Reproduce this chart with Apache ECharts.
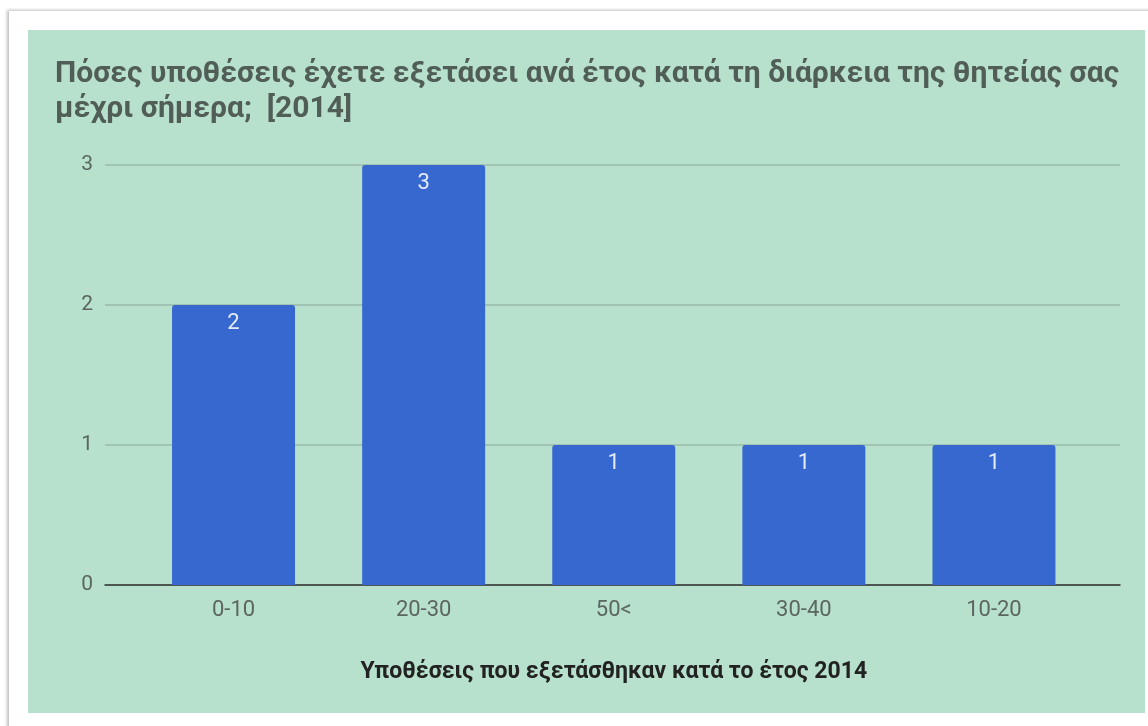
<!DOCTYPE html>
<html lang="el">
<head>
	<meta charset="UTF-8">
	<title>Υποθέσεις 2014</title>
	<script src="https://cdn.jsdelivr.net/npm/echarts@6/dist/echarts.min.js"></script>
	<style>
		html, body { margin: 0; padding: 0; background: #ffffff; }
		#frame {
			position: absolute; left: 9px; top: 11px; width: 1160px; height: 720px;
			background: #ffffff; box-shadow: -2px -1px 3px rgba(0,0,0,0.25);
		}
		#panel {
			position: absolute; left: 28px; top: 30px; width: 1117px; height: 683px;
			background: #b7e1cd;
		}
		#main { position: absolute; left: 0; top: 0; width: 1148px; height: 726px; }
	</style>
</head>
<body>
	<div id="frame"></div>
	<div id="panel"></div>
	<div id="main"></div>
	<script type="text/javascript">
		// δεδομένα
		var categories = ['0-10', '20-30', '50<', '30-40', '10-20'];
		var counts = [2, 3, 1, 1, 1];
		var yTicks = [0, 1, 2, 3];

		var titleText = 'Πόσες υποθέσεις έχετε εξετάσει ανά έτος κατά τη διάρκεια της θητείας σας\nμέχρι σήμερα;  [2014]';
		var xName = 'Υποθέσεις που εξετάσθηκαν κατά το έτος 2014';

		var myChart = echarts.init(document.getElementById('main'));

		var option = {
			backgroundColor: 'transparent',
			animation: false,
			textStyle: { fontFamily: 'Roboto' },
			title: {
				text: titleText,
				left: 55,
				top: 57,
				padding: 0,
				textStyle: {
					fontFamily: 'Roboto',
					fontSize: 30,
					fontWeight: 'bold',
					color: '#515d57',
					lineHeight: 35
				}
			},
			grid: [
				// γραμμές πλέγματος
				{ left: 105, right: 28, top: 165, bottom: 141 },
				// μπάρες
				{ left: 138.5, right: 59, top: 165, bottom: 141 }
			],
			xAxis: [
				{
					gridIndex: 0,
					type: 'value',
					min: 0,
					max: 1,
					axisLabel: { show: false },
					axisTick: { show: false },
					splitLine: { show: false },
					axisLine: { show: true, lineStyle: { color: '#333333', width: 1.5 } }
				},
				{
					gridIndex: 1,
					type: 'category',
					data: categories,
					axisLine: { show: false },
					axisTick: { show: false },
					axisLabel: { color: '#5c6660', fontSize: 22, margin: 14 },
					name: xName,
					nameLocation: 'middle',
					nameGap: 76,
					nameTextStyle: { color: '#222222', fontSize: 23, fontWeight: 'bold' }
				}
			],
			yAxis: [
				{
					gridIndex: 0,
					type: 'value',
					min: 0,
					max: yTicks[yTicks.length - 1],
					interval: 1,
					axisLine: { show: false },
					axisTick: { show: false },
					axisLabel: { color: '#5c6660', fontSize: 21, margin: 12 },
					splitLine: { show: true, lineStyle: { color: '#98b8a8', width: 1.5 } }
				},
				{
					gridIndex: 1,
					type: 'value',
					min: 0,
					max: yTicks[yTicks.length - 1],
					show: false
				}
			],
			series: [
				{
					name: '2014',
					type: 'bar',
					xAxisIndex: 1,
					yAxisIndex: 1,
					data: counts,
					barWidth: 123,
					itemStyle: { color: '#3668cf', borderRadius: [3, 3, 0, 0] },
					label: {
						show: true,
						position: 'insideTop',
						distance: 7,
						color: '#e4ebf8',
						fontSize: 22
					}
				}
			]
		};
		myChart.setOption(option);
	</script>
</body>
</html>
